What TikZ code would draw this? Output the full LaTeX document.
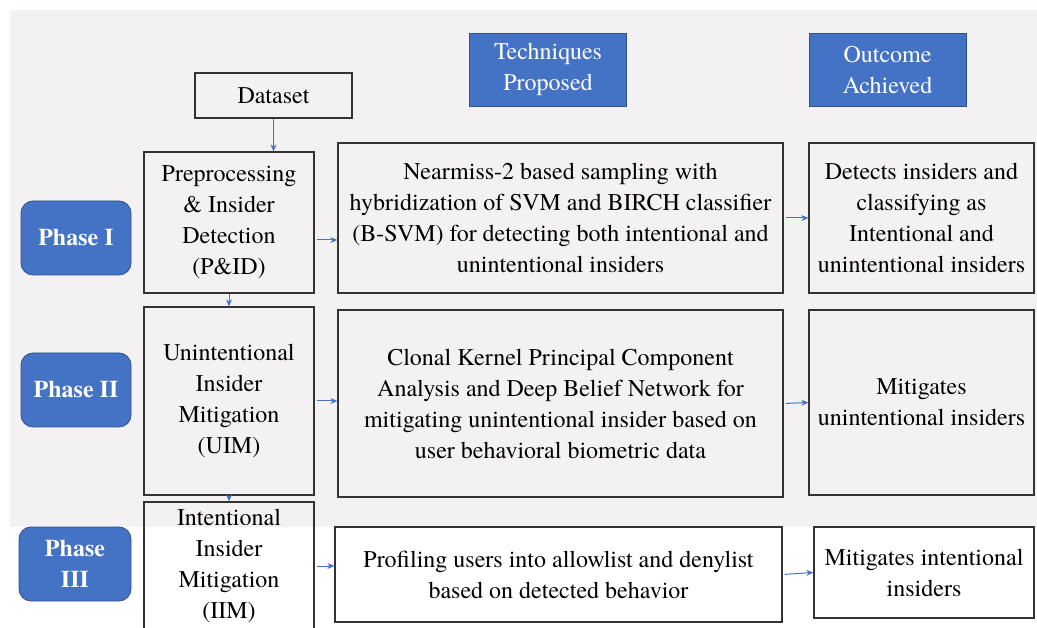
\documentclass[tikz,border=0pt]{standalone}
\usepackage{fontspec}
\setmainfont{texgyretermes}[Extension=.otf,UprightFont=*-regular,BoldFont=*-bold,ItalicFont=*-italic,BoldItalicFont=*-bolditalic]
\usetikzlibrary{arrows.meta}
\definecolor{phaseblue}{HTML}{4472C4}
\definecolor{phaseedge}{HTML}{2F528F}
\definecolor{panel}{HTML}{F3F1F2}
\definecolor{boxline}{HTML}{333333}

\begin{document}
\begin{tikzpicture}[x=1pt,y=-1pt,
  txt/.style={font=\fontsize{24}{31}\selectfont,align=center,inner sep=0pt},
  box/.style={txt,draw=boxline,line width=1.3pt},
  head/.style={txt,text=white,fill=phaseblue,draw=phaseedge,line width=0.8pt,minimum width=157pt,minimum height=73pt},
  phase/.style={txt,font=\fontsize{24}{31}\selectfont\bfseries,text=white,fill=phaseblue,draw=phaseedge,line width=0.8pt,rounded corners=12pt,minimum width=110pt,minimum height=74pt},
  flow/.style={-{Stealth[length=7pt,width=6pt]},draw=phaseblue,line width=1pt,shorten <=2pt}]
\useasboundingbox (0,0) rectangle (1037,628);
\fill[panel] (10,10) rectangle (1037,527);

% column heads
\node[box,minimum width=157pt,minimum height=45pt] (dataset) at (273.5,95.5) {Dataset};
\node[head] (techhead) at (548,69.5) {Techniques\\Proposed};
\node[head] (outhead) at (887.5,70) {Outcome\\Achieved};

% phases
\node[phase] (phaseI) at (76,238) {Phase I};
\node[phase] (phaseII) at (76,390) {Phase II};
\node[phase,minimum width=112pt] (phaseIII) at (75,564) {Phase\\III};

% modules
\node[box,minimum width=170pt,minimum height=141pt] (pid) at (229,222.5) {Preprocessing\\\& Insider\\Detection\\(P\&ID)};
\node[box,minimum width=170pt,minimum height=188pt] (uim) at (229,401) {Unintentional\\Insider\\Mitigation\\(UIM)};
\node[box,minimum width=170pt,minimum height=128pt] (iim) at (229,566) {Intentional\\Insider\\Mitigation\\(IIM)};

% techniques
\node[box,minimum width=445pt,minimum height=150pt] (tech1) at (560.5,218) {Nearmiss-2 based sampling with\\hybridization of SVM and BIRCH classifier\\(B-SVM) for detecting both intentional and\\unintentional insiders};
\node[box,minimum width=445pt,minimum height=187pt] (tech2) at (560.5,403.5) {Clonal Kernel Principal Component\\Analysis and Deep Belief Network for\\mitigating unintentional insider based on\\user behavioral biometric data};
\node[box,minimum width=447pt,minimum height=95pt] (tech3) at (558.5,574.5) {Profiling users into allowlist and denylist\\based on detected behavior};

% outcomes
\node[box,minimum width=225pt,minimum height=150pt] (out1) at (921.5,218) {Detects insiders and\\classifying as\\Intentional and\\unintentional insiders};
\node[box,minimum width=225pt,minimum height=185pt] (out2) at (921.5,402.5) {Mitigates\\unintentional insiders};
\node[box,minimum width=220pt,minimum height=91pt] (out3) at (924,572.5) {Mitigates intentional\\insiders};

\draw[flow,shorten <=0pt] (dataset.south) -- (dataset.south |- pid.north);
\draw[flow,shorten <=0pt] (pid.south) -- (uim.north);
\draw[flow,shorten <=0pt] (uim.south) -- (iim.north);
\draw[flow] ([yshift=-17.5pt]pid.east) -- ([yshift=-22pt]tech1.west);
\draw[flow] (uim.east) -- (uim.east -| tech2.west);
\draw[flow] (iim.east) -- (iim.east -| tech3.west);
\foreach \a/\b in {tech1/out1,tech2/out2,tech3/out3}{
  \draw[flow] (\a.east) -- (\b.west);}
\end{tikzpicture}
\end{document}
